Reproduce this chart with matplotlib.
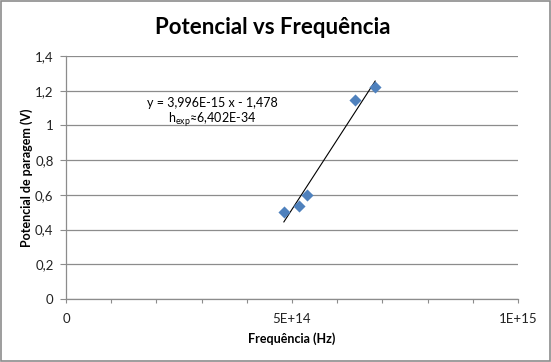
import numpy as np
import matplotlib
matplotlib.use('Agg')
import matplotlib.pyplot as plt
from matplotlib.patches import Rectangle

# Данные
freq_hz = np.array([4.82e14, 5.15e14, 5.33e14, 6.39e14, 6.84e14])
v_stop = np.array([0.50, 0.535, 0.60, 1.145, 1.22])

x_ticks = np.arange(0, 1.01e15, 1e14)
x_labels = ['0', '', '', '', '', '5E+14', '', '', '', '', '1E+15']
y_ticks = [0, 0.2, 0.4, 0.6, 0.8, 1.0, 1.2, 1.4]
y_labels = ['0', '0,2', '0,4', '0,6', '0,8', '1', '1,2', '1,4']

eq_text = 'y = 3,996E-15 x - 1,478'
h_text = r'h$_{\mathregular{exp}}$≈6,402E-34'

plt.rcParams['font.family'] = ['Lato', 'DejaVu Sans']

fig = plt.figure(figsize=(5.51, 3.62), dpi=100)
ax = fig.add_axes([66 / 551, 1 - 299 / 362, 452 / 551, 243 / 362])

# Линия тренда
slope, intercept = np.polyfit(freq_hz, v_stop, 1)
x_fit = np.array([freq_hz.min(), freq_hz.max()])
ax.plot(x_fit, slope * x_fit + intercept, color='black', linewidth=0.8, zorder=3)

# Точки
ax.scatter(freq_hz, v_stop, marker='D', s=38, color='#4F81BD', zorder=4, linewidths=0)

ax.set_xlim(0, 1e15)
ax.set_ylim(0, 1.4)
ax.set_xticks(x_ticks)
ax.set_xticklabels(x_labels)
ax.set_yticks(y_ticks)
ax.set_yticklabels(y_labels)

ax.grid(axis='y', color='#8c8c8c', linewidth=0.9)
ax.set_axisbelow(True)
for spine in ['top', 'right']:
    ax.spines[spine].set_visible(False)
for spine in ['left', 'bottom']:
    ax.spines[spine].set_color('#8c8c8c')
    ax.spines[spine].set_linewidth(0.9)
ax.tick_params(axis='both', direction='out', color='#8c8c8c',
               labelsize=9.5, labelcolor='#222222')
ax.tick_params(axis='x', length=3, pad=7)
ax.tick_params(axis='y', length=4, pad=5)

ax.set_xlabel('Frequência (Hz)', fontsize=9, fontweight='bold', labelpad=5)
ax.set_ylabel('Potencial de paragem (V)', fontsize=9, fontweight='bold', labelpad=1)

ax.text(3.23e14, 1.129, eq_text, fontsize=9, ha='center', va='center')
ax.text(3.23e14, 1.031, h_text, fontsize=9, ha='center', va='center')

fig.text(273 / 551, 1 - 27 / 362, 'Potencial vs Frequência', fontsize=16,
         fontweight='bold', ha='center', va='center')

# Рамка
fig.patches.append(Rectangle((0.001, 0.002), 0.997, 0.995, transform=fig.transFigure,
                             fill=False, edgecolor='#8c8c8c', linewidth=1.2))

plt.savefig('out.png', dpi=100)
